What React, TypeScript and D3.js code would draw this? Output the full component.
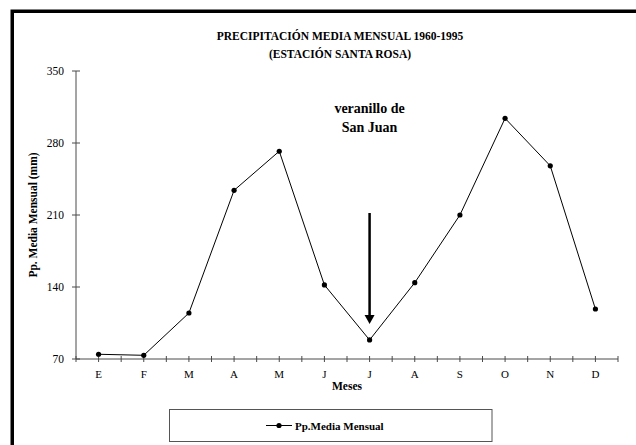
import React from "react";
import * as d3 from "d3";

const months = ["E", "F", "M", "A", "M", "J", "J", "A", "S", "O", "N", "D"];
const values = [74.6, 73.6, 114.7, 234, 272, 142, 88.5, 144.2, 210, 304, 257.8, 118.6];
const yTicks = [70, 140, 210, 280, 350];
const titleLines = ["PRECIPITACIÓN MEDIA MENSUAL 1960-1995", "(ESTACIÓN SANTA ROSA)"];
const annotationLines = ["veranillo de", "San Juan"];
const annotationIndex = 6;
const seriesName = "Pp.Media Mensual";

const W = 636, H = 445;
const plot = { left: 76, right: 618, top: 71, bottom: 359 };
const font = "'Liberation Serif', 'Times New Roman', serif";

export default function App() {
  const keys = months.map((m, i) => `${i}`);
  const x = d3.scaleBand<string>().domain(keys).range([plot.left, plot.right]).padding(0);
  const cx = (i: number) => (x(`${i}`) as number) + x.bandwidth() / 2;
  const y = d3.scaleLinear().domain([70, 350]).range([plot.bottom, plot.top]);
  const line = d3.line<number>().x((_, i) => cx(i)).y((v) => y(v));
  const axisColor = "#4a4a4a";

  const halfTicks: number[] = [];
  for (let k = 0; k <= months.length * 2; k++) halfTicks.push(plot.left + (k * x.bandwidth()) / 2);

  const ax = cx(annotationIndex);
  const arrowTop = 213;
  const arrowTip = y(values[annotationIndex]) - 16;

  return (
    <svg width={W} height={H} style={{ position: "fixed", left: 0, top: 0, background: "#fff" }} fontFamily={font}>
      <rect x={0} y={0} width={W} height={H} fill="#fff" />
      <rect x={12.25} y={11.25} width={W + 50} height={H + 50} fill="none" stroke="#000" strokeWidth={3.5} />
      {titleLines.map((t, i) => (
        <text key={t} x={340} y={40 + i * 18} textAnchor="middle" fontSize={11.5} fontWeight="bold">{t}</text>
      ))}
      {/* y axis */}
      <line x1={plot.left} x2={plot.left} y1={plot.top} y2={plot.bottom} stroke={axisColor} />
      {yTicks.map((t) => (
        <g key={t}>
          <line x1={plot.left - 4} x2={plot.left + 4} y1={y(t)} y2={y(t)} stroke={axisColor} />
          <text x={plot.left - 12} y={y(t) + 4} textAnchor="end" fontSize={11.5}>{t}</text>
        </g>
      ))}
      <text transform={`translate(37,${(plot.top + plot.bottom) / 2}) rotate(-90)`} textAnchor="middle" fontSize={11.5} fontWeight="bold">
        Pp. Media Mensual (mm)
      </text>
      {/* x axis */}
      <line x1={plot.left} x2={plot.right} y1={plot.bottom} y2={plot.bottom} stroke={axisColor} />
      {halfTicks.map((t, k) => (
        <line key={k} x1={t} x2={t} y1={plot.bottom - 3} y2={plot.bottom + 3} stroke={axisColor} />
      ))}
      {months.map((m, i) => (
        <text key={i} x={cx(i)} y={plot.bottom + 19} textAnchor="middle" fontSize={11}>{m}</text>
      ))}
      <text x={(plot.left + plot.right) / 2} y={plot.bottom + 31} textAnchor="middle" fontSize={11.5} fontWeight="bold">Meses</text>
      {/* series */}
      <path d={line(values) as string} fill="none" stroke="#000" strokeWidth={1} />
      {values.map((v, i) => (
        <circle key={i} cx={cx(i)} cy={y(v)} r={2.6} fill="#000" />
      ))}
      {/* annotation */}
      {annotationLines.map((t, i) => (
        <text key={t} x={ax} y={113 + i * 19} textAnchor="middle" fontSize={14} fontWeight="bold">{t}</text>
      ))}
      <line x1={ax} x2={ax} y1={arrowTop} y2={arrowTip - 8} stroke="#000" strokeWidth={2.5} />
      <path d={`M${ax - 5},${arrowTip - 9} L${ax + 5},${arrowTip - 9} L${ax},${arrowTip} Z`} fill="#000" />
      {/* legend */}
      <rect x={169.5} y={409.5} width={322.5} height={32} fill="#fff" stroke="#555" strokeWidth={1} />
      <line x1={266} x2={292} y1={425.5} y2={425.5} stroke="#000" />
      <circle cx={279} cy={425.5} r={2.6} fill="#000" />
      <text x={295} y={429.5} fontSize={11} fontWeight="bold">{seriesName}</text>
    </svg>
  );
}
